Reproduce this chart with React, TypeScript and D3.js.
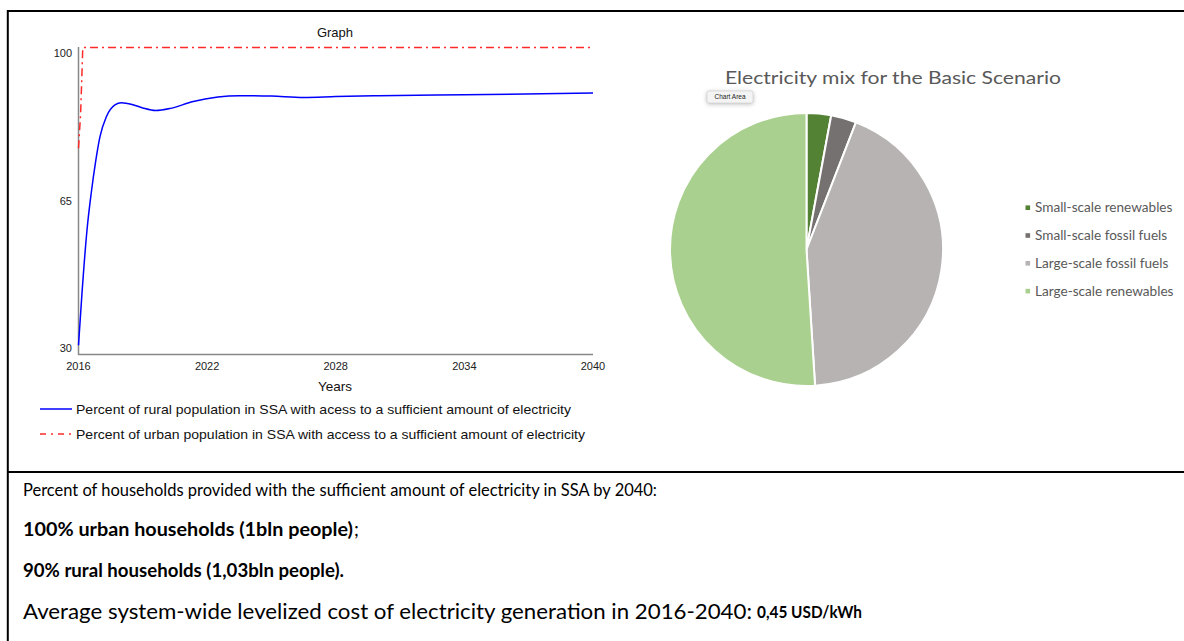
import React from "react";
import * as d3 from "d3";

const ruralYears = [2016, 2016.15, 2016.4, 2016.6, 2016.8, 2017, 2017.3, 2017.7, 2018, 2018.5, 2019, 2019.6, 2020.3, 2021.3, 2022.5, 2023.5, 2025, 2026.5, 2028, 2030, 2034, 2040];
const ruralValues = [32, 43, 58.5, 67, 74, 79.6, 84.2, 86.9, 87.4, 87, 86.2, 85.6, 86.1, 87.6, 88.7, 89.0, 88.9, 88.6, 88.8, 89.0, 89.2, 89.6];
const urbanYears = [2016, 2016.1, 2016.2, 2040];
const urbanValues = [77, 85, 100, 100];
const yTicks = [30, 65, 100];
const xTicks = [2016, 2022, 2028, 2034, 2040];
const legendLine = [
  "Percent of rural population in SSA with acess to a sufficient amount of electricity",
  "Percent of urban population in SSA with access to a sufficient amount of electricity",
];

const mixLabels = ["Small-scale renewables", "Small-scale fossil fuels", "Large-scale fossil fuels", "Large-scale renewables"];
const mixValues = [2.9, 3.0, 43.1, 51.0];
const mixColors = ["#548235", "#767171", "#B7B3B2", "#A9D08E"];

export default function App() {
  const x = d3.scaleLinear().domain([2016, 2040]).range([78.5, 593]);
  const y = d3.scaleLinear().domain([30, 100]).range([354, 47.5]);
  const line = d3.line<[number, number]>().x(d => x(d[0])).y(d => y(d[1])).curve(d3.curveMonotoneX);
  const ruralPts = ruralYears.map((yr, i) => [yr, ruralValues[i]] as [number, number]);
  const urbanPts = urbanYears.map((yr, i) => [yr, urbanValues[i]] as [number, number]);
  const urbanLine = d3.line<[number, number]>().x(d => x(d[0])).y(d => y(d[1]));

  const pie = d3.pie<number>().sort(null).value(d => d)(mixValues);
  const arc = d3.arc<d3.PieArcDatum<number>>().innerRadius(0).outerRadius(136.5);
  const cx = 806.5, cy = 249.5;

  const font = "'Liberation Sans', Arial, sans-serif";
  const cal = "Lato, 'Open Sans', sans-serif";
  const legendWidths = [495, 509];

  return (
    <svg width={1184} height={641} style={{ position: "absolute", left: 0, top: 0, background: "#fff" }}>
      <rect x={0} y={0} width={1184} height={641} fill="#fff" />
      {/* frame */}
      <line x1={7} y1={11} x2={1184} y2={11} stroke="#000" strokeWidth={2.2} />
      <line x1={7.8} y1={10} x2={7.8} y2={641} stroke="#000" strokeWidth={2} />
      <line x1={7} y1={472} x2={1184} y2={472} stroke="#000" strokeWidth={2.2} />

      {/* Line chart */}
      <text x={335} y={37} fontFamily={font} fontSize={13} textAnchor="middle" fill="#111">Graph</text>
      <line x1={78.5} y1={47} x2={78.5} y2={355} stroke="#888" strokeWidth={1.5} />
      <line x1={78} y1={354.5} x2={593} y2={354.5} stroke="#888" strokeWidth={1.5} />
      {yTicks.map((t, i) => (
        <text key={t} x={72} y={y(t) + (i === 0 ? -6 : i === yTicks.length - 1 ? 6 : 0)} dy="0.35em" textAnchor="end" fontFamily={font} fontSize={11} fill="#222">{t}</text>
      ))}
      {xTicks.map(t => (
        <text key={t} x={x(t)} y={366} dy="0.35em" textAnchor="middle" fontFamily={font} fontSize={11} fill="#222">{t}</text>
      ))}
      <text x={335} y={386} dy="0.35em" textAnchor="middle" fontFamily={font} fontSize={13.5} fill="#111">Years</text>
      <path d={urbanLine(urbanPts) || ""} fill="none" stroke="#ff2a2a" strokeWidth={1.5} strokeDasharray="8,4,2,4" />
      <path d={line(ruralPts) || ""} fill="none" stroke="#0000ff" strokeWidth={1.5} />
      <line x1={40} y1={409} x2={72} y2={409} stroke="#0000ff" strokeWidth={1.5} />
      <line x1={40} y1={434} x2={72} y2={434} stroke="#ff2a2a" strokeWidth={1.5} strokeDasharray="6,5,2,5" />
      {legendLine.map((t, i) => (
        <text key={t} x={76} y={409 + i * 25} dy="0.35em" fontFamily={font} fontSize={13} fill="#111" textLength={legendWidths[i]} lengthAdjust="spacingAndGlyphs">{t}</text>
      ))}

      {/* Pie chart */}
      <text x={893} y={78} dy="0.35em" textAnchor="middle" fontFamily={cal} fontSize={18} fill="#595959" textLength={336} lengthAdjust="spacingAndGlyphs">Electricity mix for the Basic Scenario</text>
      <g transform={`translate(${cx},${cy})`}>
        {pie.map((p, i) => (
          <path key={i} d={arc(p) || ""} fill={mixColors[i]} stroke="#fff" strokeWidth={2} />
        ))}
      </g>
      <g>
        <rect x={707} y={91} width={46} height={12} rx={2} fill="#f4f4f4" stroke="#ccc" strokeWidth={0.6} style={{ filter: "drop-shadow(0px 1px 2px rgba(0,0,0,0.25))" }} />
        <text x={730} y={97} dy="0.35em" textAnchor="middle" fontFamily={font} fontSize={6.5} fill="#222">Chart Area</text>
      </g>
      {mixLabels.map((l, i) => (
        <g key={l}>
          <rect x={1025.5} y={207.7 + i * 27.8 - 2.3} width={4.6} height={4.6} fill={mixColors[i]} />
          <text x={1035} y={207.7 + i * 27.8} dy="0.35em" fontFamily={cal} fontSize={13.6} fill="#595959">{l}</text>
        </g>
      ))}

      {/* Bottom text */}
      <text x={23} y={490} dy="0.35em" fontFamily={cal} fontSize={17.5} fill="#000" textLength={634} lengthAdjust="spacingAndGlyphs">Percent of households provided with the sufficient amount of electricity in SSA by 2040:</text>
      <text x={23} y={530} dy="0.35em" fontFamily={cal} fontSize={18.5} fill="#000" fontWeight="bold" textLength={330} lengthAdjust="spacingAndGlyphs">100% urban households (1bln people)</text>
      <text x={354} y={530} dy="0.35em" fontFamily={cal} fontSize={18.5} fill="#000">;</text>
      <text x={23} y={571} dy="0.35em" fontFamily={cal} fontSize={18.5} fill="#000" fontWeight="bold" textLength={321} lengthAdjust="spacingAndGlyphs">90% rural households (1,03bln people).</text>
      <text x={23} y={612} dy="0.35em" fontFamily={cal} fontSize={20.5} fill="#000" textLength={729} lengthAdjust="spacingAndGlyphs">Average system-wide levelized cost of electricity generation in 2016-2040:</text>
      <text x={757} y={612} dy="0.35em" fontFamily={cal} fontSize={17.5} fill="#000" fontWeight="bold" textLength={105} lengthAdjust="spacingAndGlyphs">0,45 USD/kWh</text>
    </svg>
  );
}
